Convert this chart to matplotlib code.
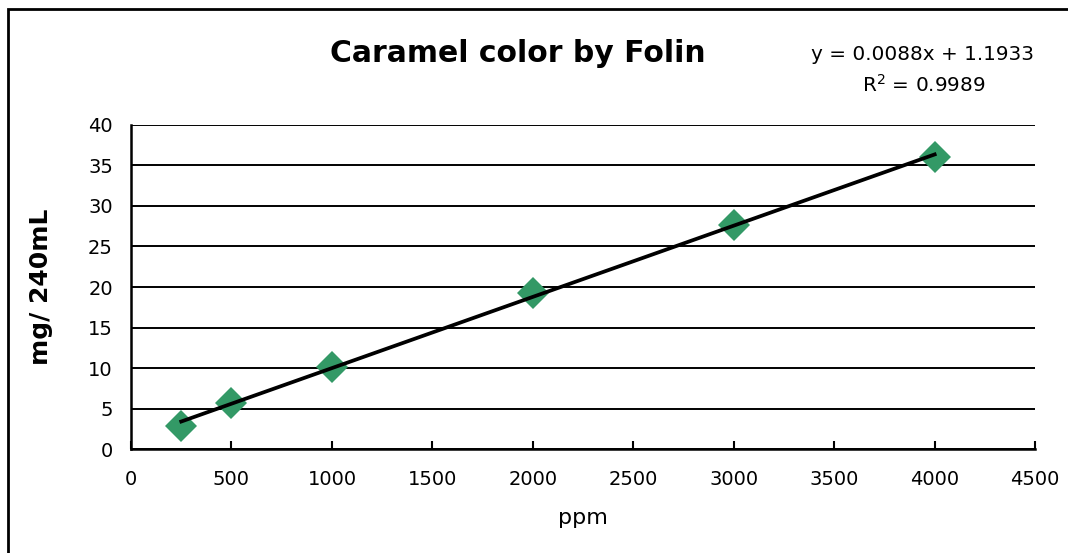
import numpy as np
import matplotlib.pyplot as plt
from matplotlib.patches import Rectangle

# dados
ppm = [250, 500, 1000, 2000, 3000, 4000]
mg_240ml = [2.9, 5.7, 10.1, 19.3, 27.7, 36.0]
x_ticks = [0, 500, 1000, 1500, 2000, 2500, 3000, 3500, 4000, 4500]
y_ticks = [0, 5, 10, 15, 20, 25, 30, 35, 40]
equacao = "y = 0.0088x + 1.1933"
r2 = "R$^2$ = 0.9989"

plt.rcParams["font.family"] = ["DejaVu Sans"]

fig = plt.figure(figsize=(10.68, 5.53), dpi=100)
ax = fig.add_axes([0.1227, 0.188, 0.8465, 0.586])

# linha de tendência (ajuste linear)
coef = np.polyfit(ppm, mg_240ml, 1)
xt = np.array([ppm[0], ppm[-1]])
ax.plot(xt, np.polyval(coef, xt), color="black", linewidth=2.7, zorder=3)

ax.plot(ppm, mg_240ml, linestyle="none", marker="D", markersize=16,
        color="#339966", markeredgewidth=0, zorder=2)

ax.set_xlim(0, 4500)
ax.set_ylim(0, 40)
ax.set_xticks(x_ticks)
ax.set_yticks(y_ticks)
ax.yaxis.grid(True, color="black", linewidth=1.4)
ax.set_axisbelow(True)
for lado in ["top", "right"]:
    ax.spines[lado].set_visible(False)
for lado in ["left", "bottom"]:
    ax.spines[lado].set_linewidth(1.8)
ax.tick_params(axis="x", direction="in", length=6, width=1.5, labelsize=14, pad=15)
ax.tick_params(axis="y", direction="in", length=0, labelsize=14, pad=13)

ax.set_xlabel("ppm", fontsize=16, labelpad=14)
ax.set_ylabel("mg/ 240mL", fontsize=18, fontweight="bold")
ax.yaxis.set_label_coords(-0.086, 0.5)

fig.text(0.485, 0.904, "Caramel color by Folin", ha="center", va="center",
         fontsize=21.5, fontweight="bold")
fig.text(0.864, 0.902, equacao, ha="center", va="center", fontsize=14.4)
fig.text(0.865, 0.846, r2, ha="center", va="center", fontsize=14.4)

# moldura externa
fig.patches.append(Rectangle((0.0075, -0.05), 1.2, 1.034, transform=fig.transFigure,
                             fill=False, edgecolor="black", linewidth=2))

fig.savefig("out.png", dpi=100)
